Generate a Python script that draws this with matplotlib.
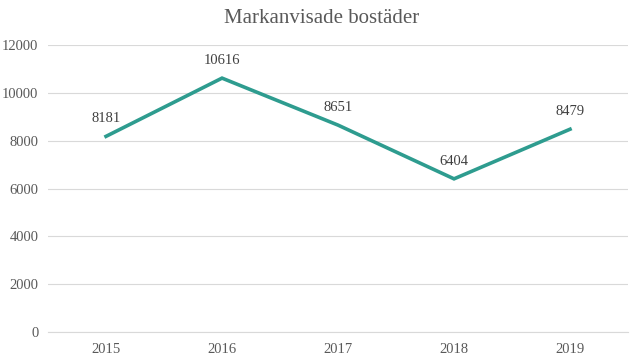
import matplotlib.pyplot as plt

plt.rcParams['font.family'] = ['Liberation Serif', 'DejaVu Serif']

years = ['2015', '2016', '2017', '2018', '2019']
values = [8181, 10616, 8651, 6404, 8479]

fig = plt.figure(figsize=(6.43, 3.61), dpi=100)
ax = fig.add_axes([0.0747, 0.0803, 0.902, 0.795])

x = range(len(years))
ax.plot(x, values, color='#2E9C8F', linewidth=2.6, solid_joinstyle='miter', zorder=3)

for xi, v in zip(x, values):
    ax.annotate(str(v), (xi, v), xytext=(0, 8), textcoords='offset points',
                ha='center', va='bottom', fontsize=10.5, color='#404040')

ax.set_xlim(-0.5, len(years) - 0.5)
ax.set_ylim(0, 12000)
ax.set_yticks(range(0, 12001, 2000))
ax.set_xticks(list(x))
ax.set_xticklabels(years)
ax.grid(axis='y', color='#D9D9D9', linewidth=0.8)
ax.set_axisbelow(True)
for s in ['top', 'right', 'left']:
    ax.spines[s].set_visible(False)
ax.spines['bottom'].set_color('#D9D9D9')
ax.tick_params(axis='y', length=0, labelsize=10.5, colors='#595959', pad=7)
ax.tick_params(axis='x', length=0, labelsize=10.5, colors='#595959', pad=8)

fig.suptitle('Markanvisade bostäder', fontsize=15, color='#595959', y=0.975)

plt.savefig('out.png', dpi=100)
